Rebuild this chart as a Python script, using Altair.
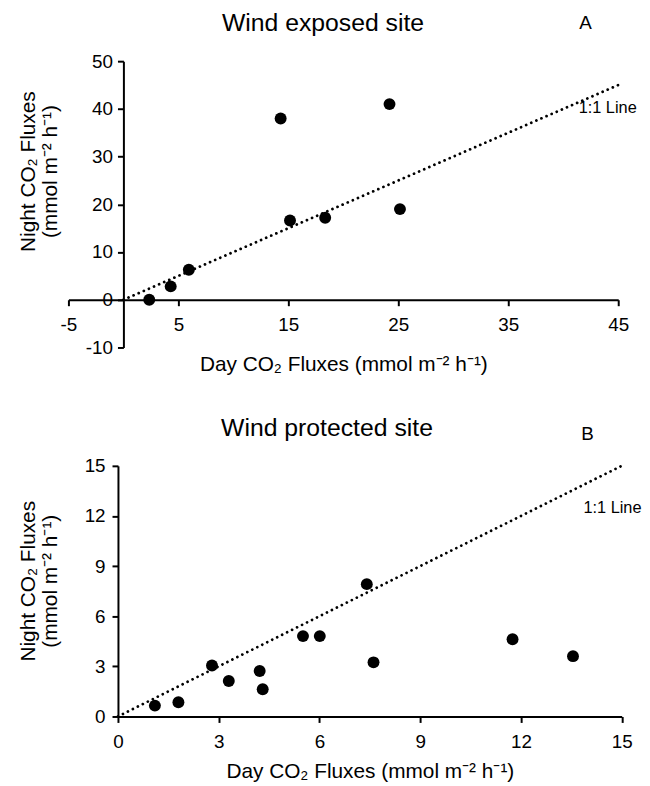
import altair as alt
import pandas as pd

# ---- data ----
a_day = [2.35, 4.3, 5.95, 14.3, 15.15, 18.35, 24.2, 25.15]
a_night = [0.0, 2.8, 6.3, 38.0, 16.6, 17.2, 41.0, 19.0]

b_day = [1.1, 1.8, 2.8, 3.3, 4.22, 4.31, 5.51, 6.01, 7.41, 7.61, 11.75, 13.55]
b_night = [0.65, 0.85, 3.05, 2.12, 2.72, 1.63, 4.81, 4.81, 7.92, 3.24, 4.62, 3.61]

a_line_x = [0, 45]
b_line_x = [0, 15]

a_ticks_x = [-5, 5, 15, 25, 35, 45]
a_ticks_y = [-10, 0, 10, 20, 30, 40, 50]
b_ticks = [0, 3, 6, 9, 12, 15]

a_title = ["Wind exposed site"]
b_title = ["Wind protected site"]
a_letter = ["A"]
b_letter = ["B"]
line_label = ["1:1 Line"]
a_label_pos = [41.4, 39.2]
b_label_pos = [13.86, 12.2]

x_title = "Day CO\u2082 Fluxes (mmol m\u207b\u00b2 h\u207b\u00b9)"
y_title = ["Night CO\u2082 Fluxes", "(mmol m\u207b\u00b2 h\u207b\u00b9)"]

FONT = "Liberation Sans"
LBL = "'' + datum.value"
LFS = 19

# ---- panel A ----
AW, AH = 555, 289
df_a = pd.DataFrame({"day": a_day, "night": a_night})
df_al = pd.DataFrame({"day": a_line_x, "night": a_line_x})

ax_a = alt.Axis(values=a_ticks_x, offset=-AH * 10 / 60, grid=False, domainWidth=2,
                tickWidth=2, tickSize=6, labelFontSize=LFS, labelPadding=10,
                labelExpr=LBL,
                labelFlush=False, labelOverlap=False, title=x_title, titleFontSize=21,
                titleFontWeight="normal", titleY=71, titleBaseline="alphabetic",
                domainColor="black", tickColor="black", labelColor="black",
                titleColor="black", labelFont=FONT, titleFont=FONT)
ay_a = alt.Axis(values=a_ticks_y, offset=-AW * 5 / 50, grid=False, domainWidth=2,
                tickWidth=2, tickSize=6, labelFontSize=LFS, labelPadding=5,
                labelExpr=LBL,
                labelFlush=False, labelOverlap=False, title=y_title, titleFontSize=21,
                titleFontWeight="normal", titleX=-90, titleY=111,
                titleBaseline="alphabetic", titleLineHeight=22,
                domainColor="black", tickColor="black", labelColor="black",
                titleColor="black", labelFont=FONT, titleFont=FONT)

xs_a = alt.Scale(domain=[-5, 45], nice=False, zero=False)
ys_a = alt.Scale(domain=[-10, 50], nice=False, zero=False)

line_a = alt.Chart(df_al).mark_line(color="black", strokeDash=[0.01, 5.6],
                                    strokeCap="round", strokeWidth=2.8).encode(
    x=alt.X("day:Q", scale=xs_a, axis=ax_a),
    y=alt.Y("night:Q", scale=ys_a, axis=ay_a),
)
pts_a = alt.Chart(df_a).mark_circle(color="black", opacity=1, size=145).encode(
    x=alt.X("day:Q", scale=xs_a),
    y=alt.Y("night:Q", scale=ys_a),
)
lab_a = alt.Chart(pd.DataFrame({"day": [a_label_pos[0]], "night": [a_label_pos[1]],
                                "t": line_label})).mark_text(
    align="left", baseline="alphabetic", fontSize=16.5, font=FONT, color="black").encode(
    x=alt.X("day:Q", scale=xs_a), y=alt.Y("night:Q", scale=ys_a), text="t:N")
tit_a = alt.Chart(pd.DataFrame({"t": a_title})).mark_text(
    align="center", baseline="alphabetic", fontSize=25, font=FONT, color="black").encode(
    x=alt.value(257), y=alt.value(-30), text="t:N")
let_a = alt.Chart(pd.DataFrame({"t": a_letter})).mark_text(
    align="center", baseline="alphabetic", fontSize=19, font=FONT, color="black").encode(
    x=alt.value(522), y=alt.value(-32.6), text="t:N")

panel_a = alt.layer(line_a, pts_a, lab_a, tit_a, let_a).properties(width=AW, height=AH)

# ---- panel B ----
BW, BH = 558.5, 253
BL = 50
df_b = pd.DataFrame({"day": b_day, "night": b_night})
df_bl = pd.DataFrame({"day": b_line_x, "night": b_line_x})

ax_b = alt.Axis(values=b_ticks, grid=False, domainWidth=2,
                tickWidth=2, tickSize=6, labelFontSize=LFS, labelPadding=10,
                labelExpr=LBL,
                labelFlush=False, labelOverlap=False, title=x_title, titleFontSize=21,
                titleFontWeight="normal", titleY=62, titleBaseline="alphabetic",
                domainColor="black", tickColor="black", labelColor="black",
                titleColor="black", labelFont=FONT, titleFont=FONT)
ay_b = alt.Axis(values=b_ticks, offset=-BL, grid=False, domainWidth=2,
                tickWidth=2, tickSize=6, labelFontSize=LFS, labelPadding=7,
                labelExpr=LBL,
                labelFlush=False, labelOverlap=False, title=y_title, titleFontSize=21,
                titleFontWeight="normal", titleX=-84.5, titleY=116,
                titleBaseline="alphabetic", titleLineHeight=22,
                domainColor="black", tickColor="black", labelColor="black",
                titleColor="black", labelFont=FONT, titleFont=FONT)

xs_b = alt.Scale(domain=[0, 15], nice=False, zero=False, range=[BL, BW])
ys_b = alt.Scale(domain=[0, 15], nice=False, zero=False)

line_b = alt.Chart(df_bl).mark_line(color="black", strokeDash=[0.01, 5.6],
                                    strokeCap="round", strokeWidth=2.8).encode(
    x=alt.X("day:Q", scale=xs_b, axis=ax_b),
    y=alt.Y("night:Q", scale=ys_b, axis=ay_b),
)
pts_b = alt.Chart(df_b).mark_circle(color="black", opacity=1, size=145).encode(
    x=alt.X("day:Q", scale=xs_b),
    y=alt.Y("night:Q", scale=ys_b),
)
lab_b = alt.Chart(pd.DataFrame({"day": [b_label_pos[0]], "night": [b_label_pos[1]],
                                "t": line_label})).mark_text(
    align="left", baseline="alphabetic", fontSize=16.5, font=FONT, color="black").encode(
    x=alt.X("day:Q", scale=xs_b), y=alt.Y("night:Q", scale=ys_b), text="t:N")
tit_b = alt.Chart(pd.DataFrame({"t": b_title})).mark_text(
    align="center", baseline="alphabetic", fontSize=25, font=FONT, color="black").encode(
    x=alt.value(261), y=alt.value(-30), text="t:N")
let_b = alt.Chart(pd.DataFrame({"t": b_letter})).mark_text(
    align="center", baseline="alphabetic", fontSize=19, font=FONT, color="black").encode(
    x=alt.value(524), y=alt.value(-26), text="t:N")

panel_b = alt.layer(line_b, pts_b, lab_b, tit_b, let_b).properties(width=BW, height=BH)

chart = alt.vconcat(panel_a, panel_b, spacing=119.5, bounds="flush").resolve_scale(
    x="independent", y="independent"
).properties(
    padding={"left": 9, "top": 0, "right": 0, "bottom": 0}
).configure(font=FONT).configure_view(strokeWidth=0)

chart.save("out.html", embed_options={"renderer": "svg", "actions": False})
